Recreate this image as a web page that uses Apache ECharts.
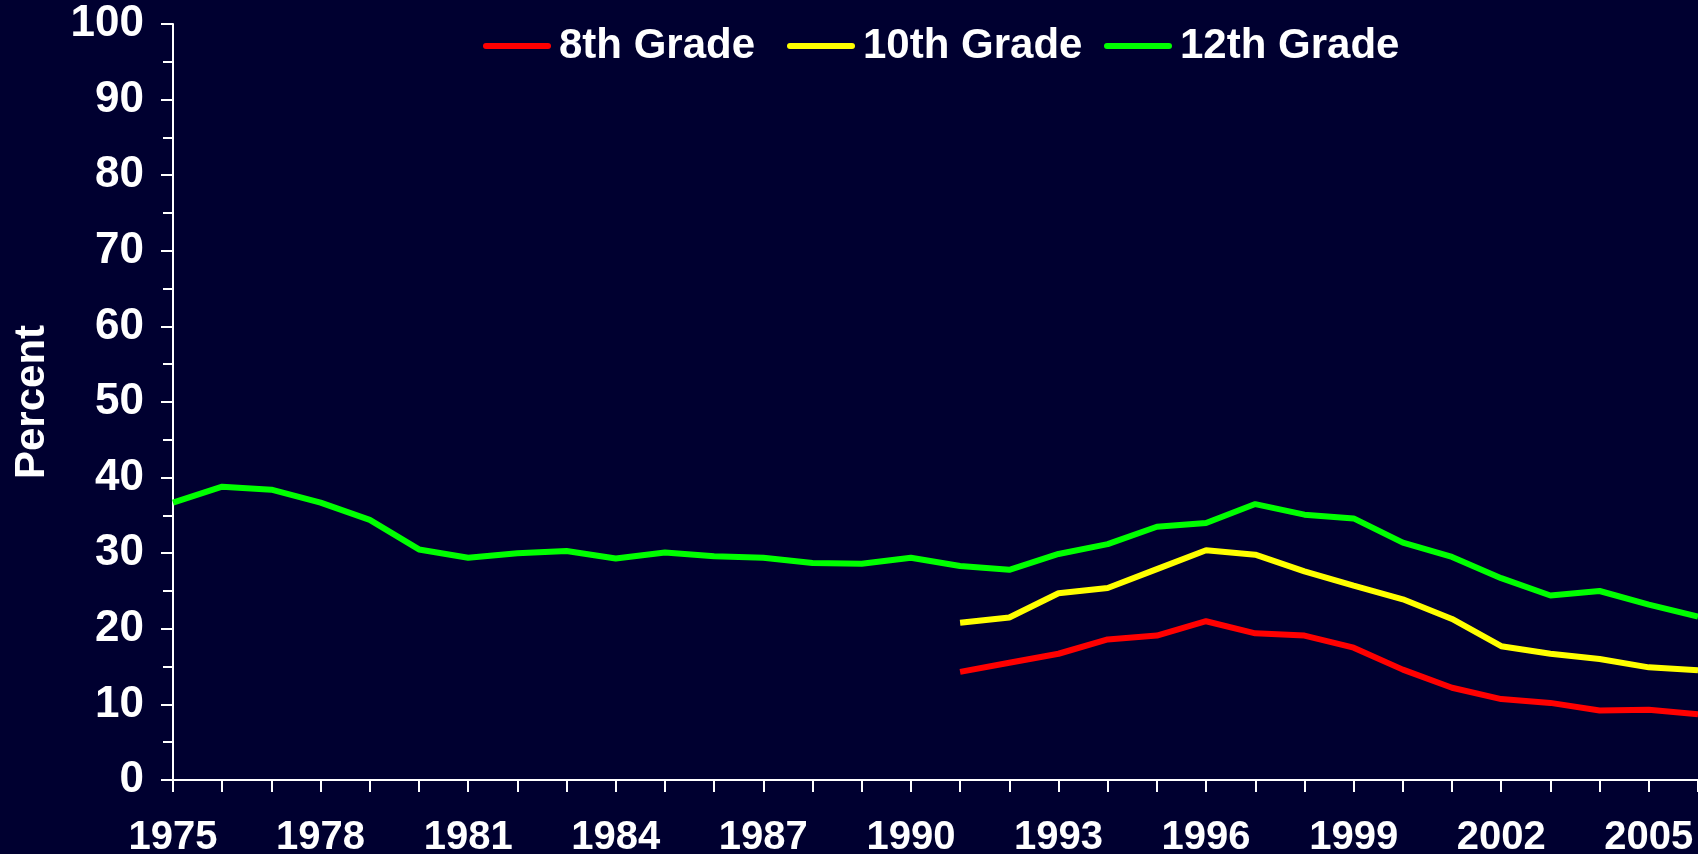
<!DOCTYPE html>
<html>
<head>
<meta charset="utf-8">
<title>30-day cigarette use</title>
<script src="https://cdn.jsdelivr.net/npm/echarts@6/dist/echarts.min.js"></script>
<style>
    html, body { margin: 0; padding: 0; background: #000030; }
    #linebox { width: 1698px; height: 854px; }
</style>
</head>
<body>
<div id="linebox"></div>
<script>
// years on the x axis
var years = [];
for (var y = 1975; y <= 2006; y++) years.push(String(y));

// 12th grade from 1975, 8th and 10th only from 1991
var grade12 = [36.7, 38.8, 38.4, 36.7, 34.4, 30.5, 29.4, 30.0, 30.3, 29.3, 30.1, 29.6, 29.4, 28.7, 28.6, 29.4,
    28.3, 27.8, 29.9, 31.2, 33.5, 34.0, 36.5, 35.1, 34.6, 31.4, 29.5, 26.7, 24.4, 25.0, 23.2, 21.6];
var grade10 = [null, null, null, null, null, null, null, null, null, null, null, null, null, null, null, null,
    20.8, 21.5, 24.7, 25.4, 27.9, 30.4, 29.8, 27.6, 25.7, 23.9, 21.3, 17.7, 16.7, 16.0, 14.9, 14.5];
var grade8 = [null, null, null, null, null, null, null, null, null, null, null, null, null, null, null, null,
    14.3, 15.5, 16.7, 18.6, 19.1, 21.0, 19.4, 19.1, 17.5, 14.6, 12.2, 10.7, 10.2, 9.2, 9.3, 8.7];

var seriesNames = ['8th Grade', '10th Grade', '12th Grade'];
var seriesColors = ['#ff0000', '#ffff00', '#00ff00'];

var fontFamily = "'Liberation Sans', Arial, sans-serif";
var pillIcon = 'path://M3,0 H65 A3,3 0 0 1 65,6 H3 A3,3 0 0 1 3,0 Z';

/**
 * one legend per item so each can sit where it does in the picture
 */
function makeLegend(name, left) {
    return {
        data: [name],
        left: left,
        top: 25,
        padding: 0,
        icon: pillIcon,
        itemWidth: 68,
        itemHeight: 6,
        selectedMode: false,
        textStyle: {
            color: '#ffffff',
            fontSize: 42,
            fontWeight: 'bold',
            fontFamily: fontFamily,
            padding: [0, 0, 0, 3]
        }
    };
}

function makeSeries(idx, values) {
    return {
        name: seriesNames[idx],
        type: 'line',
        data: values,
        symbol: 'none',
        connectNulls: false,
        lineStyle: { color: seriesColors[idx], width: 6 },
        itemStyle: { color: seriesColors[idx] }
    };
}

function initLine() {
    var lineChart = echarts.init(document.getElementById('linebox'));
    let option = {
        backgroundColor: '#000030',
        animation: false,
        legend: [
            makeLegend(seriesNames[0], 483),
            makeLegend(seriesNames[1], 787),
            makeLegend(seriesNames[2], 1104)
        ],
        grid: {
            left: 173,
            right: 0,
            top: 24,
            bottom: 74,
            containLabel: false,
            outerBoundsMode: 'none'
        },
        xAxis: {
            type: 'category',
            data: years,
            boundaryGap: false,
            axisLine: { lineStyle: { color: '#ffffff', width: 2 } },
            axisTick: { show: true, interval: 0, length: 12, lineStyle: { color: '#ffffff', width: 2 } },
            axisLabel: {
                interval: 2,
                margin: 38,
                color: '#ffffff',
                fontSize: 40,
                fontWeight: 'bold',
                fontFamily: fontFamily
            },
            splitLine: { show: false }
        },
        yAxis: {
            type: 'value',
            min: 0,
            max: 100,
            interval: 10,
            name: 'Percent',
            nameLocation: 'middle',
            nameGap: 120,
            nameRotate: 90,
            nameTextStyle: {
                color: '#ffffff',
                fontSize: 42,
                fontWeight: 'bold',
                fontFamily: fontFamily
            },
            axisLine: { show: true, lineStyle: { color: '#ffffff', width: 2 } },
            axisTick: { show: true, length: 12, lineStyle: { color: '#ffffff', width: 2 } },
            minorTick: { show: true, splitNumber: 2, length: 10, lineStyle: { color: '#ffffff', width: 2 } },
            axisLabel: {
                margin: 29,
                color: '#ffffff',
                fontSize: 44,
                fontWeight: 'bold',
                fontFamily: fontFamily
            },
            splitLine: { show: false },
            minorSplitLine: { show: false }
        },
        series: [
            makeSeries(0, grade8),
            makeSeries(1, grade10),
            makeSeries(2, grade12)
        ]
    };
    lineChart.setOption(option);
}

initLine();
</script>
</body>
</html>
